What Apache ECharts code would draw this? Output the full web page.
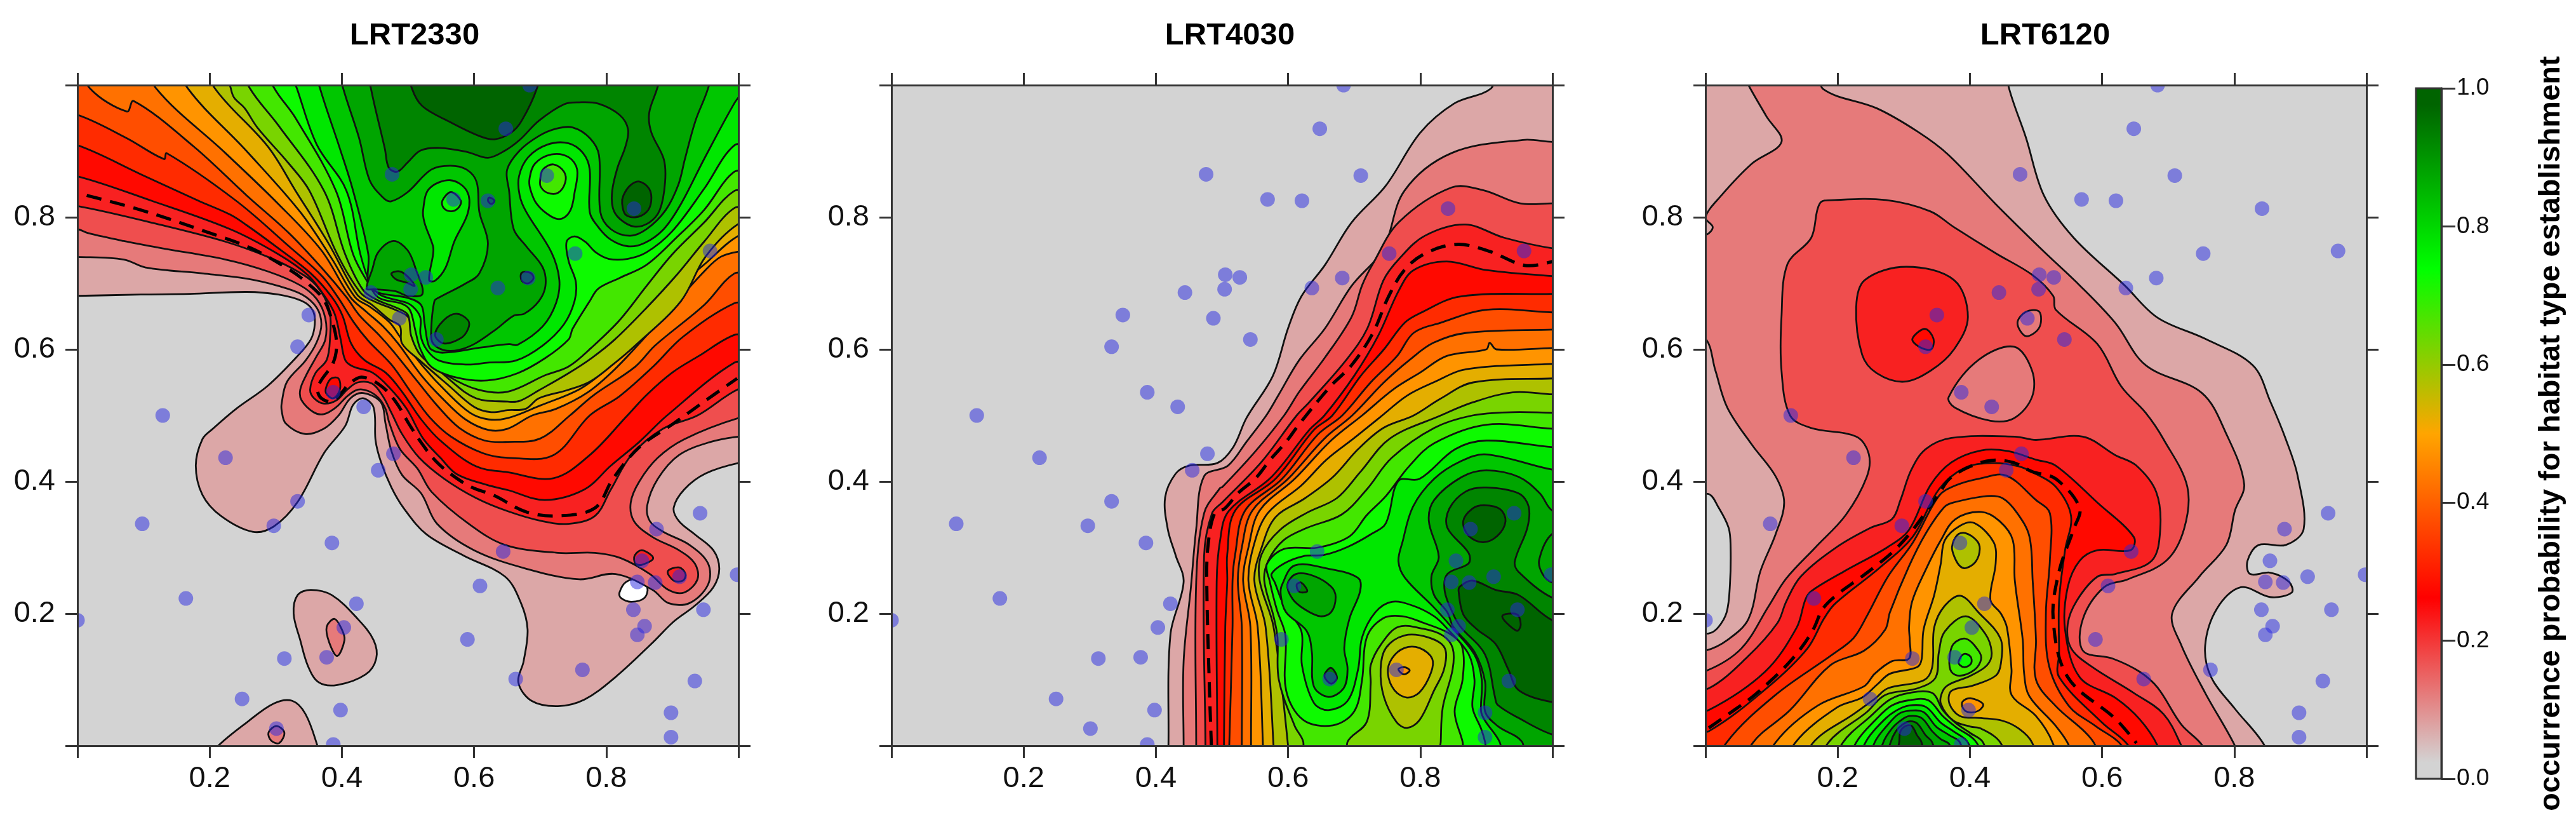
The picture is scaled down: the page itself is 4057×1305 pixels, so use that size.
<!DOCTYPE html>
<html><head><meta charset="utf-8">
<script src="https://cdn.jsdelivr.net/npm/echarts@6/dist/echarts.min.js"></script>
<style>html,body{margin:0;padding:0;background:#fff}#c{width:4057px;height:1305px}</style>
</head><body><div id="c"></div>
<script>
const panelNames = ['LRT2330','LRT4030','LRT6120'];
const axisTicks = [0,0.2,0.4,0.6,0.8,1];
const rampColors = [[211,211,211],[255,0,0],[255,165,0],[0,255,0],[0,100,0]];
const barStops = [0.025,0.2625,0.5,0.7375,0.975];
const barTitle = 'occurrence probability for habitat type establishment';

const sampleX = [0,.098,.129,.164,.224,.249,.297,.301,.313,.333,.333,.35,.377,.387,.385,.387,.398,.403,.422,.433,.444,.455,.476,.478,.487,.504,.505,.527,.543,.569,.59,.609,.621,.636,.644,.648,.663,.682,.684,.71,.753,.764,.842,.841,.847,.847,.854,.858,.874,.876,.898,.898,.911,.934,.942,.947,.957,.998];
const sampleY = [.19,.336,.5,.223,.436,.071,.333,.026,.132,.37,.604,.652,.134,.535,.307,.002,.054,.179,.215,.513,.686,.417,.865,.442,.647,.691,.713,.709,.615,.827,.161,.242,.825,.693,.294,.934,.101,.708,1,.863,.745,.115,.813,.206,.248,.168,.28,.181,.247,.328,.05,.013,.256,.098,.352,.206,.749,.259];

// contour rings: [band index (level / 0.05), x,y pairs in data units]
const lrt2330Rings = [
[1,[-.03,.681,0,.681,.096,.683,.17,.684,.256,.687,.304,.683,.34,.673,.356,.659,.359,.638,.353,.615,.333,.59,.288,.545,.24,.51,.205,.48,.189,.464,.179,.424,.189,.38,.217,.348,.265,.324,.297,.332,.333,.369,.373,.443,.405,.484,.417,.516,.432,.526,.448,.512,.451,.462,.459,.43,.475,.391,.494,.359,.528,.32,.584,.288,.647,.256,.671,.216,.681,.176,.675,.128,.667,.096,.687,.068,.727,.06,.767,.07,.814,.104,.87,.156,.902,.188,.934,.212,.962,.24,.971,.268,.962,.296,.934,.32,.91,.34,.902,.36,.918,.388,.95,.412,1,.428,1.03,.43,1.03,1.03,-.03,1.03]],
[1,[.353,.236,.385,.228,.424,.192,.448,.16,.452,.132,.436,.108,.393,.092,.365,.096,.349,.12,.337,.16,.327,.2,.333,.228]],
[1,[.19,-.03,.213,0,.257,.036,.297,.064,.325,.068,.345,.048,.363,0,.37,-.03]],
[-1,[.82,.232,.83,.248,.85,.252,.862,.24,.858,.224,.838,.218,.822,.224]],
[2,[.377,.18,.389,.192,.4,.176,.404,.16,.393,.136,.381,.156]],
[2,[.289,.02,.301,.03,.313,.02,.305,.004,.293,.008]],
[2,[-.03,.74,0,.74,.07,.736,.103,.724,.189,.715,.256,.707,.304,.696,.34,.683,.362,.663,.369,.638,.362,.611,.345,.583,.317,.551,.309,.519,.309,.507,.315,.488,.344,.472,.373,.48,.395,.5,.413,.526,.432,.534,.459,.52,.466,.488,.475,.446,.491,.41,.52,.382,.544,.336,.6,.296,.679,.268,.759,.252,.814,.26,.87,.236,.894,.216,.926,.216,.954,.244,.954,.276,.926,.304,.886,.324,.866,.34,.862,.364,.878,.404,.91,.44,.958,.46,1,.468,1.03,.47,1.03,1.03,-.03,1.03]],
[3,[-.03,.782,0,.782,.016,.776,.07,.764,.128,.753,.224,.736,.288,.718,.337,.697,.362,.676,.375,.647,.375,.615,.362,.59,.346,.561,.337,.539,.339,.523,.357,.505,.373,.502,.392,.513,.408,.529,.424,.539,.44,.537,.456,.526,.466,.51,.472,.488,.488,.449,.514,.42,.536,.384,.592,.336,.647,.304,.727,.292,.783,.292,.822,.284,.866,.26,.894,.236,.918,.232,.938,.252,.934,.276,.91,.296,.87,.316,.842,.34,.837,.368,.85,.4,.878,.436,.918,.464,1,.496,1.03,.498,1.03,1.03,-.03,1.03]],
[4,[.843,.288,.854,.296,.871,.284,.854,.274,.844,.276]],
[4,[.893,.264,.91,.27,.92,.26,.916,.25,.902,.25]],
[4,[-.03,.817,0,.817,.128,.788,.224,.763,.288,.74,.333,.718,.362,.696,.381,.66,.382,.616,.377,.584,.36,.564,.352,.539,.358,.526,.373,.518,.392,.523,.408,.539,.424,.55,.446,.548,.462,.529,.475,.504,.491,.472,.517,.436,.555,.404,.603,.375,.651,.355,.703,.34,.743,.336,.783,.348,.807,.388,.838,.44,.886,.48,.938,.5,1,.54,1.03,.542,1.03,1.03,-.03,1.03]],
[5,[.377,.545,.384,.556,.395,.556,.397,.539,.387,.526,.376,.534]],
[5,[-.03,.862,0,.862,.112,.825,.231,.782,.304,.744,.349,.712,.375,.679,.389,.654,.398,.616,.405,.584,.417,.574,.446,.565,.472,.542,.498,.51,.523,.465,.549,.436,.574,.411,.619,.395,.651,.387,.707,.372,.767,.388,.807,.424,.85,.46,.892,.5,.994,.58,1.03,.582,1.03,1.03,-.03,1.03]],
[6,[-.03,.909,0,.909,.096,.865,.183,.825,.231,.804,.256,.788,.304,.753,.353,.715,.385,.679,.401,.651,.414,.609,.434,.584,.466,.565,.491,.536,.52,.494,.549,.462,.603,.423,.651,.414,.72,.405,.775,.44,.832,.5,.862,.532,.9,.565,.94,.59,.994,.622,1.03,.624,1.03,1.03,-.03,1.03]],
[7,[-.03,.955,0,.955,.074,.92,.131,.888,.135,.897,.24,.825,.32,.756,.369,.712,.394,.679,.418,.641,.44,.613,.475,.577,.504,.536,.533,.497,.565,.468,.613,.443,.651,.436,.72,.44,.775,.5,.82,.529,.871,.574,.916,.619,.994,.67,1.03,.672,1.03,1.03,-.03,1.03]],
[8,[.01,1.03,.019,.995,.075,.96,.085,.976,.176,.907,.256,.833,.32,.776,.369,.724,.407,.679,.427,.651,.456,.622,.478,.597,.514,.552,.546,.513,.578,.481,.616,.462,.651,.46,.7,.465,.745,.5,.78,.53,.844,.574,.874,.606,.948,.667,.994,.715,1.03,.717,1.03,1.03]],
[9,[.115,1.03,.119,.995,.224,.897,.304,.82,.369,.75,.413,.679,.437,.657,.462,.635,.485,.609,.52,.561,.552,.526,.587,.494,.622,.478,.651,.48,.688,.5,.724,.51,.772,.535,.813,.57,.86,.62,.9,.665,.95,.72,.973,.74,1,.748,1.03,.75,1.03,1.03]],
[10,[.16,1.03,.167,.995,.256,.9,.337,.808,.385,.737,.42,.679,.443,.664,.472,.641,.488,.619,.523,.574,.558,.536,.594,.504,.622,.494,.651,.496,.7,.515,.76,.54,.8,.57,.855,.625,.905,.69,.95,.73,1,.772,1.03,.774,1.03,1.03]],
[11,[.2,1.03,.208,.995,.288,.907,.33,.84,.38,.76,.423,.683,.446,.667,.472,.645,.488,.635,.491,.609,.517,.584,.562,.545,.6,.513,.626,.505,.651,.508,.678,.51,.698,.526,.74,.538,.775,.551,.81,.577,.844,.606,.913,.673,.95,.74,1,.79,1.03,.792,1.03,1.03]],
[12,[.225,1.03,.232,.995,.237,.981,.253,.965,.272,.936,.32,.881,.351,.84,.393,.744,.428,.686,.45,.672,.478,.661,.501,.648,.506,.619,.523,.593,.562,.555,.603,.526,.651,.521,.669,.522,.698,.538,.743,.564,.778,.587,.813,.615,.861,.663,.906,.712,.948,.763,.994,.814,1.03,.816,1.03,1.03]],
[13,[.25,1.03,.261,.995,.304,.939,.373,.84,.405,.744,.432,.69,.453,.675,.485,.662,.5,.652,.505,.62,.52,.59,.56,.56,.606,.539,.651,.536,.708,.561,.743,.574,.778,.603,.82,.644,.861,.696,.9,.744,.948,.792,.994,.84,1.03,.842,1.03,1.03]],
[14,[.285,1.03,.298,.995,.33,.95,.391,.84,.417,.744,.44,.7,.456,.678,.488,.67,.4995,.664,.505,.655,.512,.625,.519,.6,.536,.573,.575,.557,.62,.553,.666,.564,.708,.587,.743,.615,.749,.631,.775,.673,.788,.692,.82,.708,.861,.728,.906,.769,.948,.811,.994,.869,1.03,.871,1.03,1.03]],
[15,[.32,1.03,.332,.995,.362,.91,.407,.84,.428,.744,.443,.7,.459,.682,.4995,.67,.512,.66,.519,.647,.519,.622,.528,.6,.547,.583,.589,.577,.621,.58,.663,.583,.704,.606,.736,.638,.752,.673,.754,.702,.743,.734,.74,.763,.752,.771,.768,.763,.784,.747,.804,.737,.832,.737,.861,.747,.9,.779,.948,.843,.994,.909,1.03,.911,1.03,1.03]],
[16,[.36,1.03,.367,.995,.397,.904,.417,.84,.44,.744,.44,.7,.455,.686,.4995,.678,.52,.667,.525,.64,.53,.61,.535,.6,.554,.595,.612,.603,.653,.608,.666,.607,.704,.635,.724,.67,.729,.705,.717,.747,.679,.808,.669,.833,.668,.862,.682,.891,.711,.91,.743,.912,.765,.897,.775,.872,.775,.808,.788,.785,.807,.766,.833,.756,.858,.761,.887,.782,.913,.82,.948,.888,.994,.973,1.03,1.03]],
[17,[.395,1.03,.402,.995,.426,.92,.442,.856,.462,.83,.474,.824,.4995,.838,.535,.872,.564,.878,.589,.872,.604,.853,.608,.808,.621,.76,.608,.715,.586,.699,.548,.679,.54,.673,.535,.625,.538,.609,.554,.599,.576,.599,.602,.609,.634,.631,.66,.651,.676,.654,.698,.673,.708,.696,.704,.724,.679,.756,.66,.782,.653,.84,.65,.872,.669,.901,.698,.923,.724,.934,.749,.936,.775,.92,.789,.894,.791,.808,.807,.782,.836,.772,.861,.782,.89,.811,.909,.849,.919,.888,.935,.946,.954,.995,.96,1.03]],
[17,[.4375,.692,.446,.721,.455,.747,.478,.764,.4995,.75,.512,.721,.522,.684,.4995,.681,.481,.688,.449,.691]],
[18,[.475,.715,.488,.718,.501,.709,.51,.696,.498,.701,.482,.706]],
[18,[.44,1.03,.444,.995,.465,.904,.471,.875,.484,.869,.4995,.883,.519,.901,.548,.905,.589,.899,.621,.89,.647,.901,.669,.917,.698,.946,.736,.971,.759,.974,.788,.972,.82,.955,.833,.933,.829,.907,.817,.875,.809,.84,.81,.814,.82,.798,.842,.786,.865,.792,.881,.811,.889,.853,.887,.888,.868,.929,.865,.958,.877,.995,.885,1.03]],
[19,[.5,1.03,.506,.995,.522,.968,.564,.944,.608,.923,.631,.918,.656,.928,.672,.946,.695,.995,.7,1.03]],
[19,[.824,.821,.826,.833,.836,.848,.85,.854,.865,.843,.868,.824,.861,.808,.844,.8,.829,.804]],
[18,[.541,.622,.554,.644,.573,.654,.591,.644,.591,.631,.58,.617,.554,.609]],
[18,[.672,.716,.685,.716,.69,.708,.682,.7,.672,.704]],
[18,[.623,.83,.631,.825,.626,.82,.621,.825]],
[15,[.523,.811,.532,.843,.564,.856,.589,.84,.591,.808,.57,.763,.557,.724,.541,.704,.532,.705,.538,.744,.538,.756,.525,.792]],
[14,[.552,.825,.565,.838,.58,.825,.576,.814,.565,.809,.554,.814]],
[14,[.684,.859,.692,.881,.717,.895,.743,.891,.756,.872,.752,.837,.746,.811,.733,.798,.717,.801,.695,.82,.685,.843]],
[13,[.7,.856,.704,.872,.72,.88,.736,.869,.738,.853,.727,.837,.711,.837,.701,.846]]
];
const lrt2330Dashed = [.014,.833,.096,.811,.192,.779,.263,.753,.32,.721,.346,.702,.372,.676,.385,.644,.392,.609,.387,.58,.368,.552,.363,.539,.369,.526,.385,.521,.401,.536,.41,.547,.43,.558,.459,.545,.482,.52,.501,.488,.52,.459,.542,.431,.568,.409,.597,.391,.63,.379,.679,.354,.727,.348,.783,.36,.81,.404,.85,.452,.902,.488,.958,.528,.998,.556];

const lrt4030Rings = [
[1,[.419,-.03,.419,0,.422,.168,.442,.248,.43,.288,.418,.328,.414,.376,.43,.412,.45,.424,.493,.428,.517,.452,.537,.496,.577,.56,.6,.632,.62,.68,.656,.728,.696,.792,.748,.848,.8,.928,.851,.972,.907,.995,.92,1.03,1.03,1.03,1.03,-.03]],
[2,[.442,-.03,.442,0,.442,.128,.453,.24,.461,.328,.473,.408,.509,.424,.537,.46,.567,.5,.585,.53,.617,.584,.656,.632,.696,.696,.744,.752,.776,.84,.847,.897,.955,.917,1,.914,1.03,.914,1.03,-.03]],
[3,[.461,-.03,.461,0,.461,.248,.473,.352,.497,.39,.501,.392,.55,.445,.594,.5,.617,.536,.656,.588,.696,.649,.712,.697,.728,.729,.768,.793,.847,.845,.895,.841,.951,.821,1,.821,1.03,.821,1.03,-.03]],
[4,[.475,-.03,.475,0,.473,.288,.485,.352,.501,.369,.56,.43,.613,.5,.632,.52,.688,.584,.72,.632,.744,.704,.768,.737,.807,.772,.868,.789,.927,.769,1,.753,1.03,.753,1.03,-.03]],
[5,[.493,-.03,.493,0,.492,.248,.497,.31,.51,.355,.575,.407,.632,.478,.655,.5,.7,.56,.736,.62,.768,.69,.79,.72,.84,.733,.9,.72,1,.711,1.03,.711,1.03,-.03]],
[6,[.503,-.03,.503,0,.505,.18,.508,.25,.508,.29,.52,.356,.581,.404,.639,.478,.667,.5,.71,.56,.745,.6,.776,.64,.8,.655,.86,.68,1,.684,1.03,.684,1.03,-.03]],
[7,[.511,-.03,.511,0,.516,.18,.516,.25,.52,.29,.535,.356,.591,.404,.645,.471,.682,.5,.725,.55,.765,.59,.79,.625,.83,.64,.9,.66,1,.656,1.03,.656,1.03,-.03]],
[8,[.53,-.03,.53,0,.53,.18,.524,.25,.53,.3,.546,.356,.6,.404,.655,.465,.697,.5,.745,.55,.785,.585,.82,.61,.87,.625,1,.63,1.03,.63,1.03,-.03]],
[9,[.544,-.03,.544,0,.543,.18,.532,.25,.54,.3,.557,.356,.61,.404,.665,.462,.712,.5,.76,.54,.8,.565,.84,.59,.9,.6,.905,.61,.915,.6,1,.602,1.03,.602,1.03,-.03]],
[10,[.562,-.03,.562,0,.554,.18,.54,.25,.55,.31,.57,.353,.62,.394,.658,.433,.699,.465,.74,.498,.78,.53,.82,.55,.87,.57,1,.578,1.03,.578,1.03,-.03]],
[11,[.578,-.03,.578,0,.566,.18,.549,.25,.56,.3,.581,.346,.626,.375,.668,.407,.706,.449,.744,.481,.79,.5,.83,.525,.88,.55,1,.556,1.03,.556,1.03,-.03]],
[12,[.6,-.03,.6,0,.578,.18,.557,.25,.56,.29,.588,.327,.629,.353,.674,.375,.709,.414,.754,.465,.831,.5,.88,.52,.94,.535,1,.532,1.03,.532,1.03,-.03]],
[13,[.623,-.03,.623,.006,.61,.03,.586,.1,.584,.164,.578,.196,.564,.25,.57,.28,.593,.311,.629,.33,.681,.35,.719,.388,.757,.436,.821,.481,.879,.5,.94,.505,1,.504,1.03,.504,1.03,-.03,.83,-.03,.831,.006,.834,.058,.849,.116,.849,.148,.834,.167,.805,.177,.767,.18,.741,.154,.725,.122,.725,.094,.719,.036,.69,.006,.69,-.03]],
[14,[1.03,.48,1,.48,.9,.486,.821,.458,.783,.423,.748,.378,.719,.349,.693,.317,.645,.3,.594,.298,.568,.275,.572,.25,.583,.206,.596,.167,.597,.084,.623,.039,.668,.031,.7,.052,.712,.1,.719,.164,.744,.193,.773,.196,.805,.186,.844,.17,.863,.151,.864,.1,.852,.052,.864,.006,.87,-.03,1.03,-.03]],
[15,[1.03,.452,1,.452,.9,.462,.853,.449,.799,.404,.767,.401,.748,.337,.725,.32,.69,.301,.655,.289,.623,.287,.594,.276,.575,.26,.58,.247,.594,.212,.62,.174,.621,.122,.639,.065,.661,.054,.69,.068,.706,.116,.712,.164,.732,.202,.757,.218,.789,.212,.821,.196,.841,.177,.873,.139,.882,.1,.879,.058,.892,.026,.898,.006,.905,-.03,1.03,-.03]],
[16,[1.03,.418,1,.418,.9,.441,.86,.43,.821,.404,.789,.362,.773,.308,.767,.279,.777,.254,.821,.209,.847,.18,.882,.138,.893,.1,.892,.052,.898,.038,.92,.006,.93,-.03,1.03,-.03]],
[16,[.591,.244,.61,.273,.661,.268,.706,.254,.709,.234,.693,.193,.685,.148,.69,.116,.684,.087,.661,.074,.639,.09,.636,.142,.628,.174,.597,.202,.589,.228]],
[17,[.599,.244,.612,.26,.639,.257,.665,.241,.672,.225,.665,.202,.649,.196,.626,.206,.607,.222]],
[18,[.613,.244,.62,.247,.629,.234,.617,.233]],
[18,[.655,.106,.665,.118,.674,.103,.665,.094]],
[17,[1.03,.356,1,.356,.981,.382,.949,.407,.9,.417,.863,.407,.821,.372,.813,.34,.828,.286,.817,.257,.821,.228,.841,.202,.85,.18,.882,.142,.898,.097,.898,.052,.917,.03,.954,.006,.96,-.03,1.03,-.03]],
[18,[1.03,.224,1,.224,.949,.263,.943,.279,.962,.33,.964,.362,.949,.382,.9,.391,.869,.385,.844,.359,.841,.33,.873,.292,.873,.276,.841,.26,.837,.234,.85,.199,.861,.18,.898,.138,.913,.074,.917,.062,.949,.042,1,.017,1.03,.017]],
[17,[1.03,.321,1,.321,.98,.282,.985,.26,1,.247,1.03,.247]],
[19,[.865,.34,.879,.359,.897,.364,.921,.358,.929,.34,.917,.318,.895,.308,.873,.318]],
[19,[.858,.234,.86,.241,.879,.25,.914,.236,.949,.228,1,.19,1.03,.19,1.03,.066,1,.066,.949,.084,.933,.116,.914,.154,.885,.177,.865,.199]],
[19,[.924,.196,.946,.199,.952,.183,.946,.174]],
[11,[.74,.116,.748,.148,.776,.167,.812,.164,.837,.148,.836,.116,.821,.084,.799,.039,.78,.027,.764,.036,.745,.074]],
[10,[.751,.11,.757,.132,.776,.148,.799,.148,.818,.132,.816,.11,.799,.081,.78,.073,.761,.084]],
[9,[.767,.116,.776,.119,.784,.114,.775,.108]]
];
const lrt4030Dashed = [.484,0,.481,.088,.477,.248,.479,.304,.489,.352,.504,.359,.525,.383,.551,.405,.573,.433,.597,.46,.617,.487,.664,.544,.696,.576,.728,.624,.752,.68,.776,.72,.807,.745,.855,.759,.903,.749,.959,.727,1,.733];

const lrt6120Rings = [
[1,[-.03,1.03,.458,1.03,.458,1,.485,.92,.512,.833,.557,.769,.634,.697,.684,.648,.756,.616,.828,.576,.855,.52,.878,.464,.896,.408,.905,.328,.878,.304,.837,.304,.82,.28,.824,.26,.855,.262,.883,.248,.887,.232,.855,.225,.81,.24,.774,.208,.756,.152,.765,.104,.801,.056,.846,0,.85,-.03,-.03,-.03,-.03,.17,.005,.17,.019,.179,.032,.202,.037,.244,.038,.301,.035,.33,.019,.362,.005,.381,-.03,.381]],
[2,[-.03,.144,0,.144,.033,.16,.065,.192,.083,.264,.106,.32,.119,.368,.106,.408,.07,.456,.033,.512,.015,.568,0,.616,-.03,.616,-.03,.773,0,.773,.011,.785,0,.8,.024,.833,.07,.881,.115,.914,.092,.953,.065,1,.05,1.03,.17,1.03,.178,.994,.259,.965,.322,.929,.367,.895,.439,.82,.51,.75,.567,.696,.62,.64,.666,.576,.751,.534,.788,.472,.815,.396,.801,.356,.788,.304,.747,.256,.706,.2,.72,.152,.756,.08,.801,0,.81,-.03,-.03,-.03]],
[3,[-.03,.113,0,.113,.054,.147,.096,.212,.122,.253,.167,.301,.212,.349,.244,.407,.247,.442,.228,.468,.16,.481,.128,.5,.115,.568,.115,.649,.124,.729,.16,.769,.173,.821,.196,.826,.273,.826,.34,.809,.376,.785,.44,.745,.494,.713,.526,.681,.53,.66,.593,.608,.629,.544,.666,.504,.693,.464,.729,.392,.724,.328,.697,.28,.639,.252,.603,.24,.571,.192,.571,.144,.616,.132,.657,.112,.684,.088,.72,.032,.752,0,.76,-.03,-.03,-.03]],
[2,[.368,.528,.413,.584,.467,.604,.494,.568,.494,.528,.467,.496,.431,.492,.377,.512]],
[2,[.472,.64,.485,.657,.505,.657,.505,.633,.485,.62]],
[4,[.228,.664,.241,.705,.304,.725,.376,.705,.397,.649,.376,.6,.341,.568,.3,.551,.259,.564,.237,.592]],
[5,[.313,.616,.332,.631,.345,.616,.341,.6,.323,.604]],
[4,[-.03,.087,.005,.087,.064,.135,.109,.186,.122,.218,.144,.256,.199,.301,.25,.33,.282,.343,.295,.372,.311,.417,.333,.449,.372,.466,.468,.468,.5,.463,.571,.468,.62,.44,.652,.424,.682,.384,.688,.328,.675,.28,.62,.26,.593,.256,.562,.22,.548,.184,.553,.148,.584,.12,.648,.08,.693,.048,.72,0,.73,-.03,-.03,-.03]],
[5,[-.03,.05,.005,.054,.09,.112,.138,.179,.151,.221,.16,.234,.208,.263,.276,.301,.308,.327,.34,.394,.372,.429,.417,.447,.458,.446,.5,.433,.53,.424,.593,.368,.648,.316,.643,.296,.593,.296,.566,.28,.548,.24,.544,.176,.566,.104,.621,.072,.657,.04,.684,0,.69,-.03,-.03,-.03]],
[6,[-.03,.018,.005,.022,.096,.09,.154,.147,.179,.192,.196,.215,.263,.269,.314,.317,.353,.388,.391,.42,.433,.428,.474,.423,.497,.413,.53,.392,.553,.348,.544,.296,.535,.22,.535,.14,.535,.104,.6,.035,.64,0,.645,-.03,-.03,-.03]],
[7,[.025,-.03,.032,.005,.106,.077,.192,.138,.224,.163,.244,.196,.276,.256,.314,.308,.353,.378,.378,.394,.417,.405,.455,.409,.5,.372,.521,.352,.521,.28,.515,.2,.52,.12,.55,.06,.59,.03,.63,0,.635,-.03]],
[8,[.065,-.03,.072,.005,.128,.054,.189,.122,.24,.144,.272,.176,.279,.202,.308,.272,.333,.321,.362,.362,.378,.369,.426,.378,.449,.375,.471,.353,.49,.317,.495,.25,.5,.16,.5,.1,.53,.06,.575,.02,.59,0,.595,-.03]],
[9,[.1,-.03,.106,.005,.17,.061,.24,.09,.256,.109,.282,.128,.308,.132,.309,.16,.308,.18,.3125,.218,.333,.266,.356,.311,.378,.343,.417,.354,.445,.34,.465,.311,.468,.25,.48,.16,.482,.11,.49,.075,.53,.03,.55,0,.555,-.03]],
[10,[.13,-.03,.136,.005,.199,.058,.237,.073,.26,.093,.279,.109,.32,.119,.327,.131,.33,.176,.346,.228,.356,.276,.362,.311,.385,.333,.407,.337,.436,.308,.439,.276,.431,.221,.447,.2,.456,.179,.463,.115,.463,.077,.5,.045,.525,.005,.53,-.03]],
[11,[.157,-.03,.163,.005,.224,.048,.256,.071,.276,.087,.33,.099,.343,.119,.346,.179,.362,.212,.386,.227,.413,.202,.446,.163,.447,.125,.439,.106,.404,.091,.372,.083,.369,.064,.385,.045,.417,.042,.449,.038,.474,.026,.494,.005,.5,-.03]],
[11,[.373,.301,.381,.319,.393,.322,.41,.311,.415,.298,.409,.279,.394,.269,.385,.272,.377,.285]],
[9,[.389,.067,.401,.072,.42,.063,.413,.053,.397,.051,.389,.058]],
[12,[.18,-.03,.186,.005,.244,.051,.272,.077,.321,.087,.348,.103,.353,.141,.362,.173,.394,.196,.423,.17,.433,.141,.426,.122,.401,.106,.369,.093,.359,.083,.356,.064,.375,.038,.401,.029,.417,.026,.446,.005,.452,-.03]],
[13,[.369,.131,.375,.154,.394,.162,.413,.144,.417,.131,.407,.115,.385,.106,.372,.112]],
[14,[.383,.128,.391,.139,.401,.135,.402,.125,.393,.119,.385,.122]],
[13,[.2,-.03,.208,.005,.25,.045,.279,.07,.308,.08,.343,.08,.359,.054,.378,.035,.401,.019,.42,.005,.425,-.03]],
[14,[.22,-.03,.228,.005,.26,.042,.282,.061,.308,.069,.337,.069,.359,.045,.378,.029,.41,.005,.415,-.03]],
[15,[.235,-.03,.242,.005,.269,.038,.288,.053,.308,.061,.333,.059,.356,.035,.375,.022,.397,.005,.402,-.03]],
[16,[.25,-.03,.256,.005,.276,.032,.292,.048,.308,.053,.33,.051,.349,.029,.369,.016,.385,.005,.39,-.03]],
[17,[.262,-.03,.269,.005,.282,.026,.295,.038,.308,.045,.327,.042,.343,.022,.356,.01,.369,.002,.375,-.03]],
[18,[.273,-.03,.28,.005,.288,.022,.298,.032,.308,.037,.32,.034,.333,.016,.343,.005,.35,-.03]],
[19,[.288,-.03,.293,.005,.295,.022,.303,.03,.312,.03,.32,.016,.327,.005,.332,-.03]]
];
const lrt6120Dashed = [.005,.027,.042,.053,.071,.074,.096,.096,.12,.119,.144,.147,.163,.176,.178,.208,.202,.231,.231,.252,.26,.274,.285,.295,.309,.321,.33,.349,.353,.381,.369,.404,.401,.423,.433,.432,.465,.429,.494,.415,.53,.404,.566,.36,.557,.328,.535,.264,.526,.192,.548,.104,.621,.04,.652,.004];

const panelRings = [lrt2330Rings, lrt4030Rings, lrt6120Rings];
const panelDashed = [lrt2330Dashed, lrt4030Dashed, lrt6120Dashed];

// layout
const gridLefts = [122,1404,2686];
const titleCenters = [648,1932,3216];
const gridTop = 134, gridSize = 1041;

function ramp(t){
  const f = Math.min(t,1)*(rampColors.length-1), i = Math.min(Math.floor(f),rampColors.length-2), u = f-i;
  const a = rampColors[i], b = rampColors[i+1];
  return 'rgb('+a.map((v,j)=>Math.round(v+(b[j]-v)*u)).join(',')+')';
}
const bandColor = k => k<0 ? '#ffffff' : ramp(k/19);
const pairs = flat => { const o=[]; for(let i=0;i<flat.length;i+=2) o.push([flat[i],flat[i+1]]); return o; };
const fmt = v => (v===0||v===1) ? '' : v.toFixed(1);

const tickStyle = {show:true,length:19,inside:false,lineStyle:{color:'#333',width:3}};
const lineStyle = {show:true,onZero:false,lineStyle:{color:'#333',width:3}};
const labelFont = {fontFamily:'Liberation Sans',fontSize:47,color:'#111'};

const grid=[], xAxis=[], yAxis=[], series=[], title=[];
panelNames.forEach((name,p)=>{
  grid.push({left:gridLefts[p],top:gridTop,width:gridSize,height:gridSize-1,show:true,backgroundColor:'#D3D3D3',borderWidth:0,containLabel:false});
  title.push({text:name,left:titleCenters[p],top:27,textAlign:'center',textStyle:{fontFamily:'Liberation Sans',fontWeight:'bold',fontSize:49,color:'#000'}});
  const base = {gridIndex:p,type:'value',min:0,max:1,interval:0.2,splitLine:{show:false},axisLine:lineStyle,axisTick:tickStyle,z:10};
  const xi = xAxis.length, yi = yAxis.length;
  xAxis.push(Object.assign({},base,{position:'bottom',axisLabel:Object.assign({show:true,margin:29,formatter:fmt},labelFont)}));
  xAxis.push(Object.assign({},base,{position:'top',axisLabel:{show:false}}));
  yAxis.push(Object.assign({},base,{position:'left',axisLabel:Object.assign({show:true,margin:35,formatter:fmt},labelFont)}));
  yAxis.push(Object.assign({},base,{position:'right',axisLabel:{show:false}}));
  const rings = panelRings[p].map(r=>({k:r[0],pts:pairs(r[1])}));
  series.push({type:'custom',name:name+' contours',coordinateSystem:'cartesian2d',xAxisIndex:xi,yAxisIndex:yi,clip:true,silent:true,z:2,
    data:rings.map(r=>r.pts[0]),
    renderItem:(params,api)=>{
      const r = rings[params.dataIndex];
      return {type:'polygon',shape:{points:r.pts.map(q=>api.coord(q)),smooth:0.35},style:{fill:bandColor(r.k),stroke:'#111',lineWidth:2.8}};
    }});
  const dash = pairs(panelDashed[p]);
  series.push({type:'custom',name:name+' threshold',coordinateSystem:'cartesian2d',xAxisIndex:xi,yAxisIndex:yi,clip:true,silent:true,z:3,
    data:[dash[0]],
    renderItem:(params,api)=>({type:'polyline',shape:{points:dash.map(q=>api.coord(q)),smooth:0.35},style:{fill:null,stroke:'#000',lineWidth:5,lineDash:[24,14]}})});
  series.push({type:'custom',name:name+' samples',coordinateSystem:'cartesian2d',xAxisIndex:xi,yAxisIndex:yi,clip:true,silent:true,z:4,
    data:sampleX.map((x,i)=>[x,sampleY[i]]),
    renderItem:(params,api)=>{
      const c = api.coord([api.value(0),api.value(1)]);
      return {type:'circle',shape:{cx:c[0],cy:c[1],r:11.5},style:{fill:'rgba(40,40,225,0.5)'}};
    }});
});

// colour bar
const barIdx = grid.length;
grid.push({left:3805,top:139,width:40,height:1087,show:false});
const barStopColors = rampColors.map((c,i)=>({offset:1-barStops[i],color:'rgb('+c.join(',')+')'})).reverse();
xAxis.push({gridIndex:barIdx,type:'value',min:0,max:1,show:false});
yAxis.push({gridIndex:barIdx,type:'value',min:0,max:1,interval:0.2,position:'right',splitLine:{show:false},z:10,
  axisLine:lineStyle,axisTick:{show:true,length:22,lineStyle:{color:'#333',width:3}},
  axisLabel:{show:true,margin:24,fontFamily:'Liberation Sans',fontSize:37,color:'#111',formatter:v=>v.toFixed(1)},
  name:barTitle,nameLocation:'middle',nameRotate:90,nameGap:150,
  nameTextStyle:{fontFamily:'Liberation Sans',fontWeight:'bold',fontSize:47,color:'#000'}});
series.push({type:'custom',name:'colour bar',coordinateSystem:'cartesian2d',xAxisIndex:xAxis.length-1,yAxisIndex:yAxis.length-1,silent:true,z:2,
  data:[[0,0,1,1]],
  renderItem:(params,api)=>{
    const a = api.coord([0,0]), b = api.coord([1,1]);
    return {type:'rect',shape:{x:a[0],y:b[1],width:b[0]-a[0],height:a[1]-b[1]},
      style:{stroke:'#333',lineWidth:3,fill:new echarts.graphic.LinearGradient(0,0,0,1,barStopColors)}};
  }});

const chart = echarts.init(document.getElementById('c'),null,{renderer:'canvas',width:4057,height:1305});
chart.setOption({animation:false,backgroundColor:'#fff',title,grid,xAxis,yAxis,series});
</script></body></html>
